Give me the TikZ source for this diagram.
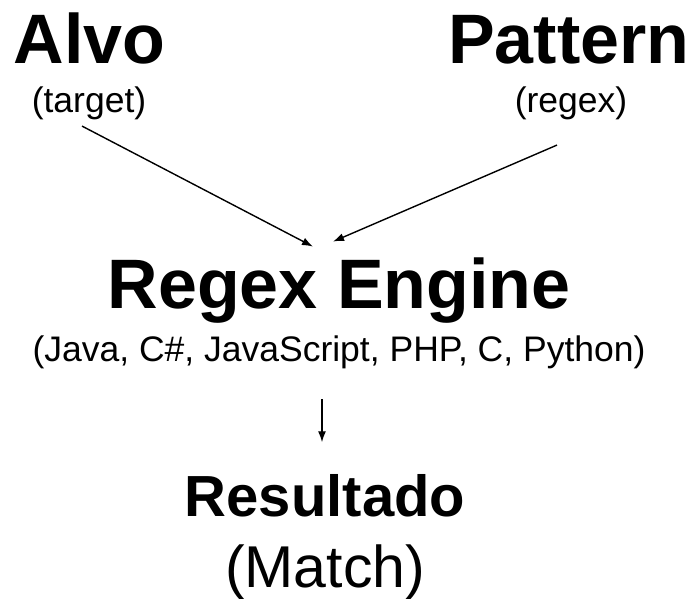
\documentclass[tikz,border=0pt]{standalone}
\usepackage{fontspec}
\setmainfont{Liberation Sans}
\usetikzlibrary{arrows.meta, positioning}
\tikzstyle{title} = [font=\bfseries\fontsize{70}{70}\selectfont, inner sep=0pt]
\tikzstyle{result} = [font=\bfseries\fontsize{58}{58}\selectfont, inner sep=0pt]
\tikzstyle{note} = [font=\fontsize{35.5}{36}\selectfont, inner sep=0pt]

\begin{document}
\begin{tikzpicture}[x=1pt, y=-1pt, >={Latex[length=11pt,width=8pt]}, line width=1.4pt]
      \useasboundingbox (0,0) rectangle (694,598);
      \node[title, anchor=base west] (alvo) at (13,63) {Alvo};
      \node[note, anchor=base] (target) at (89,112) {(target)};
      \node[title, anchor=base east] (pattern) at (690,63) {Pattern};
      \node[note, anchor=base] (regex) at (571,112) {(regex)};
      \node[title, anchor=base] (engine) at (339,308) {Regex Engine};
      \node[note, anchor=base] (langs) at (339,361) {(Java, C\#, JavaScript, PHP, C, Python)};
      \node[result, anchor=base] (res) at (325,516) {Resultado};
      \node[font=\fontsize{59}{59}\selectfont, inner sep=0pt, anchor=base] (match) at (325,587) {(Match)};
      \draw[->] ([xshift=-7pt,yshift=-6pt]target.south) -- ([xshift=-26pt,yshift=10pt]engine.north);
      \draw[->] ([xshift=-14pt,yshift=-25pt]regex.south) -- ([xshift=-6pt,yshift=15pt]engine.north);
      \draw[->] ([xshift=-17pt,yshift=-30pt]langs.south) -- ([xshift=-3pt,yshift=31pt]res.north);
\end{tikzpicture}
\end{document}
